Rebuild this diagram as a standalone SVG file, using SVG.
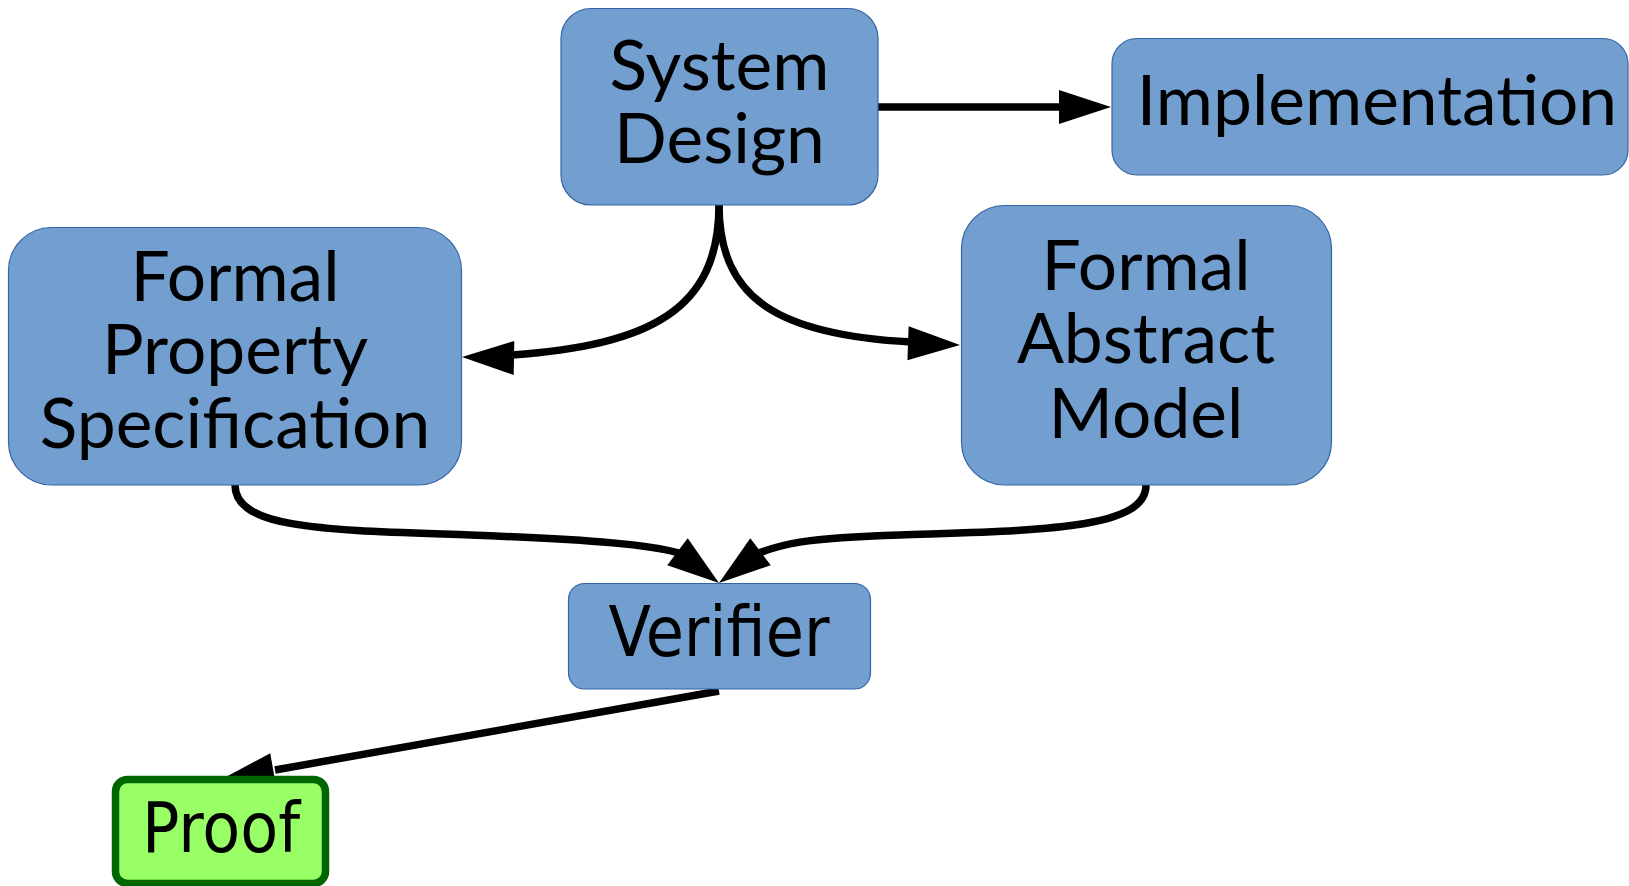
<svg xmlns="http://www.w3.org/2000/svg" xmlns:xlink="http://www.w3.org/1999/xlink" width="1629" height="886" viewBox="0 0 1629 886">
<style>
.box{fill:#729fcf;stroke:#3465a4;stroke-width:1.2}
.proof{fill:#99ff66;stroke:#006600;stroke-width:7.5}
.lbl{font-family:Lato,"Liberation Sans",sans-serif;font-size:69.5px;fill:#000;text-anchor:middle}
.cond{font-family:"DejaVu Sans Condensed","DejaVu Sans",sans-serif;font-stretch:condensed;font-size:69px;fill:#000;text-anchor:middle}
.edge{fill:none;stroke:#000;stroke-width:7.5}
.head{fill:#000}
</style>
<defs>
<path id="ah" d="M0,0 L-52,-17 L-52,17 Z"/>
</defs>
<rect width="1629" height="886" fill="#fff"/>
<g id="connectors">
<path class="edge" d="M878,107 L1062,107"/>
<use xlink:href="#ah" class="head" transform="translate(1111,107)"/>
<path class="edge" d="M719,205 C719,310 650,345 512,355"/>
<use xlink:href="#ah" class="head" transform="translate(462,357) rotate(181)"/>
<path class="edge" d="M719,205 C719,300 780,335 911,342"/>
<use xlink:href="#ah" class="head" transform="translate(960,345) rotate(2)"/>
<path class="edge" d="M235,485 C235,530 330,530 470,535 C600,540 650,545 679,553"/>
<use xlink:href="#ah" class="head" transform="translate(719,583) rotate(37)"/>
<path class="edge" d="M1146,485 C1146,530 1040,530 900,535 C800,538 780,545 759,553"/>
<use xlink:href="#ah" class="head" transform="translate(719,583) rotate(143)"/>
<path class="edge" d="M719,691 L275,770"/>
<use xlink:href="#ah" class="head" transform="translate(222,779) rotate(170)"/>
</g>
<g id="system-design">
<rect class="box" x="561" y="8.5" width="317" height="196.5" rx="30" ry="30"/>
<text class="lbl" x="719.5" y="90">System</text>
<text class="lbl" x="719.5" y="163">Design</text>
</g>
<g id="implementation">
<rect class="box" x="1112" y="38.5" width="516" height="136.5" rx="25" ry="25"/>
<text class="lbl" x="1377" y="125">Implementation</text>
</g>
<g id="formal-property-specification">
<rect class="box" x="8.5" y="227.5" width="453" height="257.5" rx="43" ry="43"/>
<text class="lbl" x="235" y="301">Formal</text>
<text class="lbl" x="235" y="374">Property</text>
<text class="lbl" x="235" y="448">Specification</text>
</g>
<g id="formal-abstract-model">
<rect class="box" x="961.5" y="205.5" width="370" height="279.5" rx="43" ry="43"/>
<text class="lbl" x="1146" y="290">Formal</text>
<text class="lbl" x="1146" y="363">Abstract</text>
<text class="lbl" x="1146" y="438">Model</text>
</g>
<g id="verifier">
<rect class="box" x="568.5" y="583.5" width="302" height="105.5" rx="16" ry="16"/>
<text class="cond" x="719" y="656">Verifier</text>
</g>
<g id="proof">
<rect class="proof" x="115.5" y="779.5" width="210" height="104" rx="12" ry="12"/>
<text class="cond" x="221" y="852">Proof</text>
</g>
</svg>
